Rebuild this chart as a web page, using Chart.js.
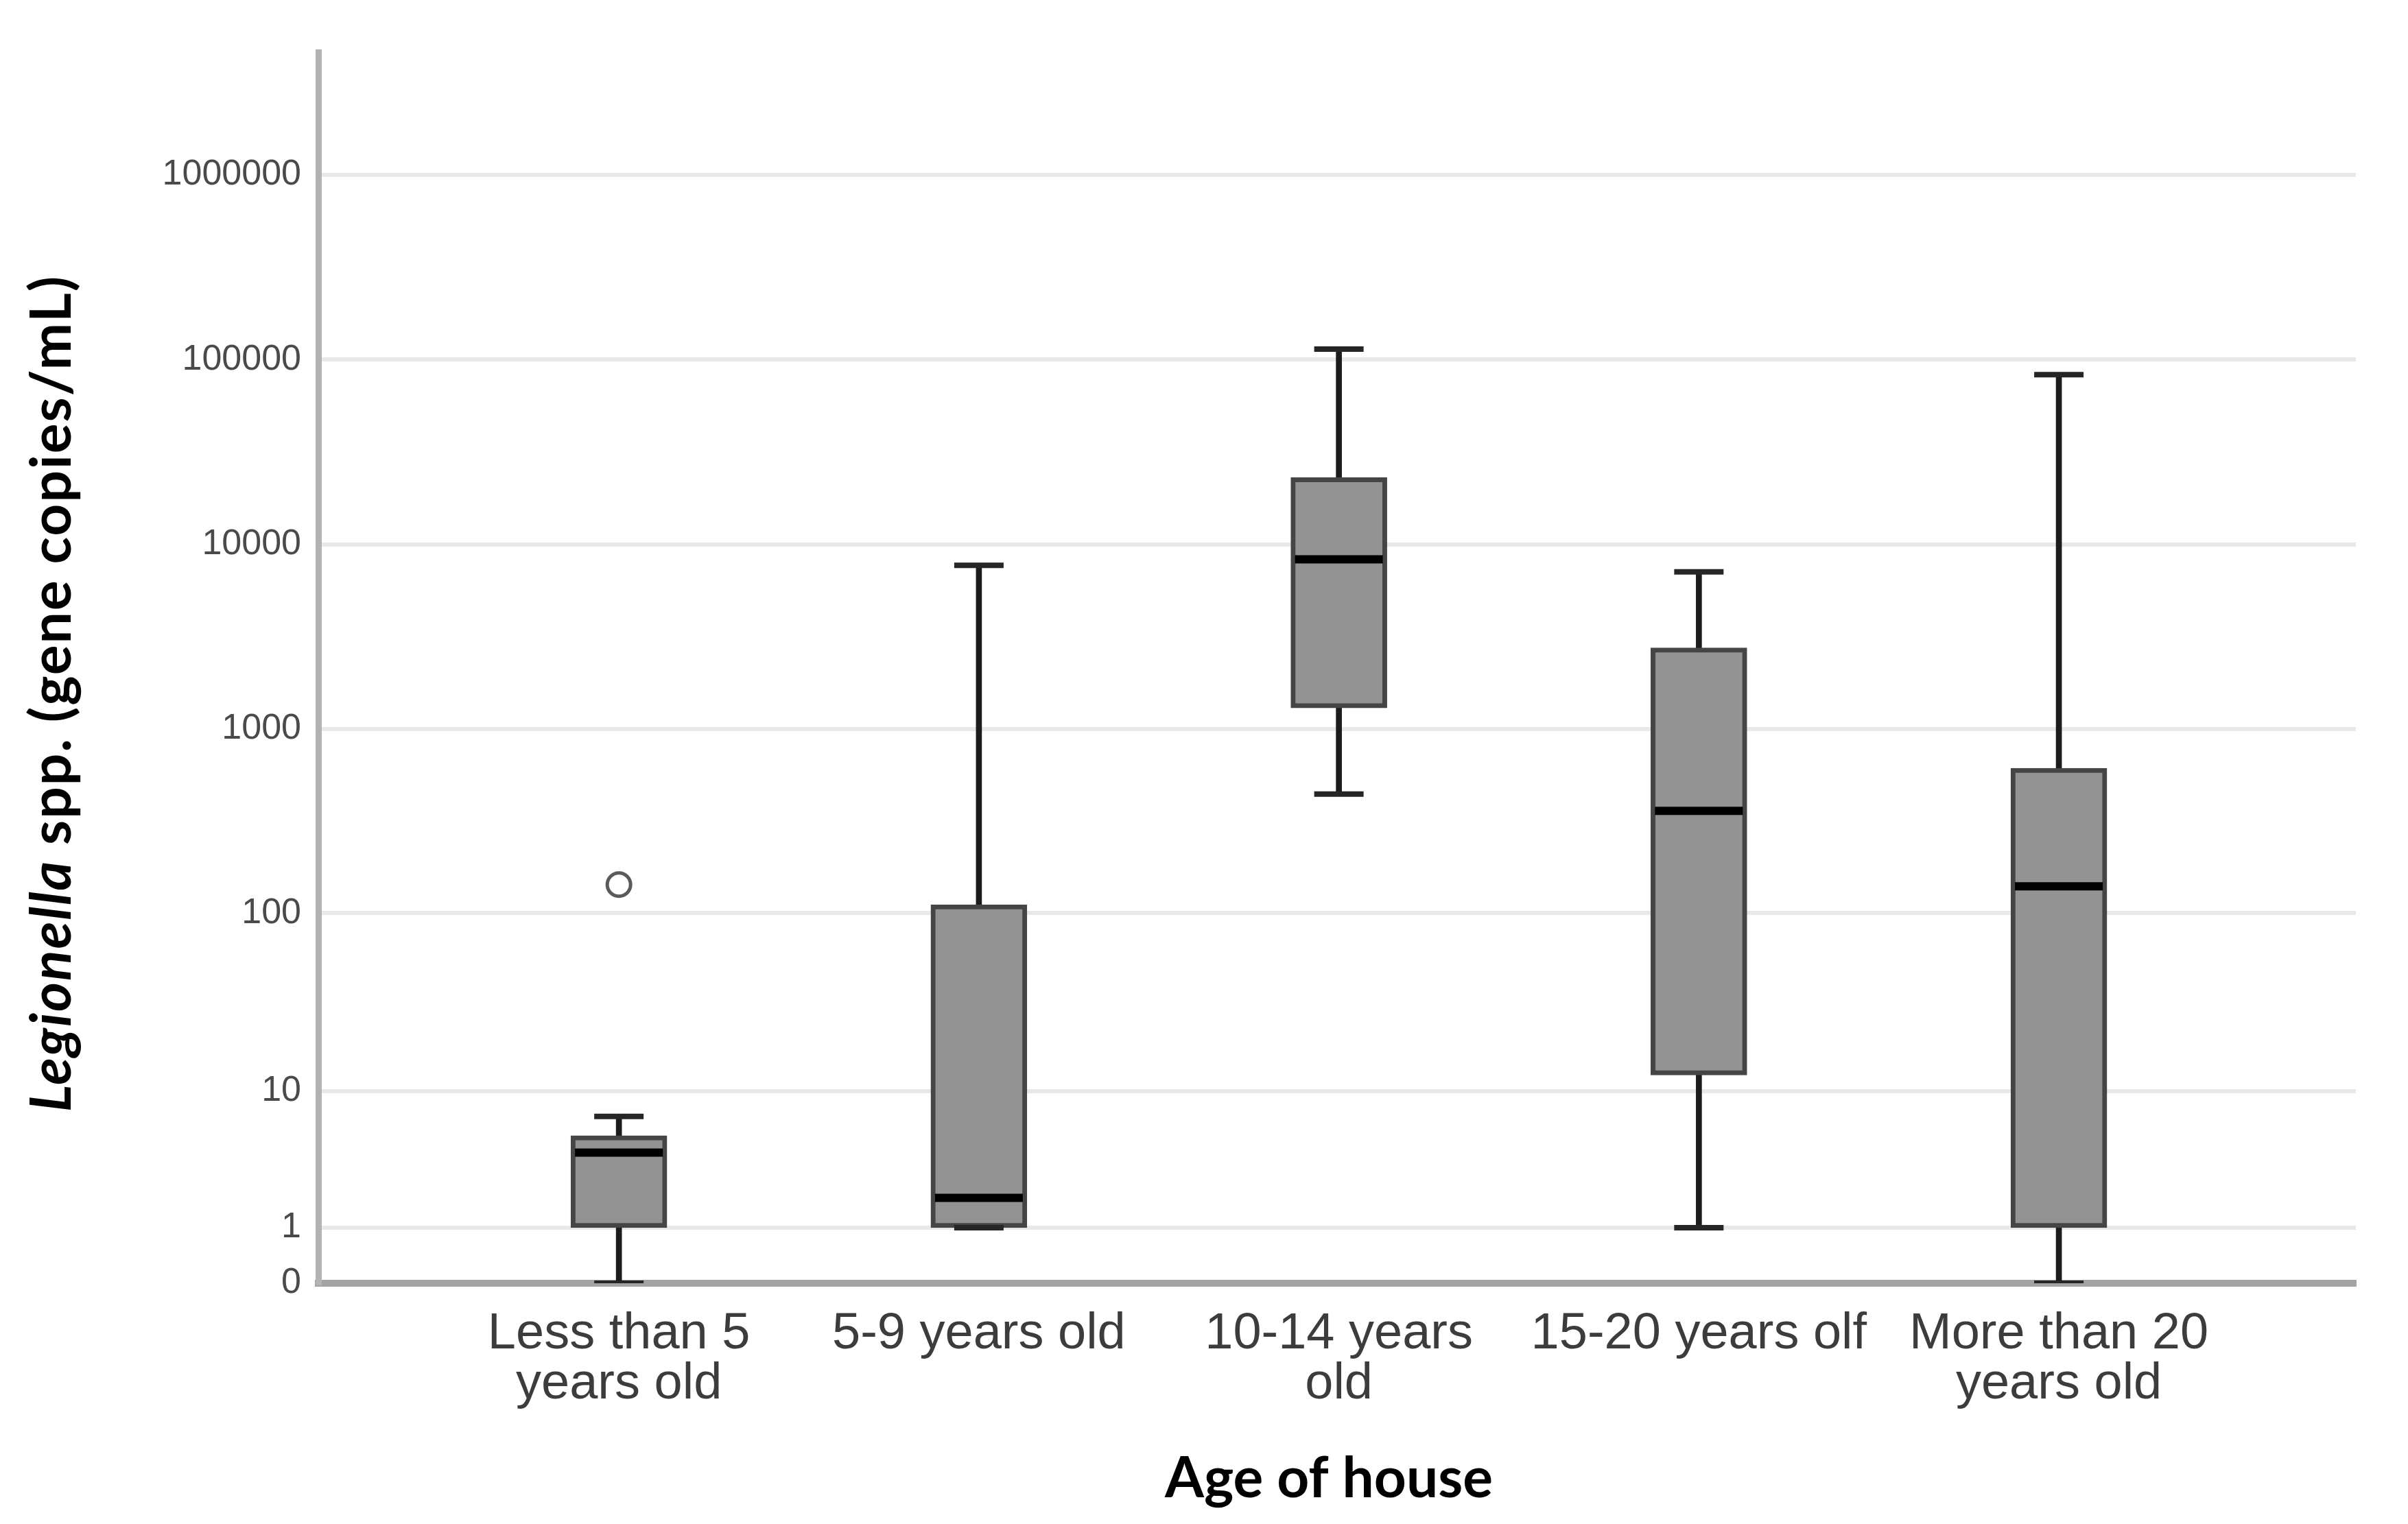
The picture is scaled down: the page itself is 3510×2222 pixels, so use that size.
<!DOCTYPE html>
<html>
<head>
<meta charset="utf-8">
<script src="https://cdn.jsdelivr.net/npm/chart.js@4.4.1/dist/chart.umd.min.js"></script>
<style>
  html, body { margin: 0; padding: 0; background: #fff; }
  #wrap { width: 3510px; height: 2222px; position: relative; }
</style>
</head>
<body>
<div id="wrap"><canvas id="boxChart"></canvas></div>
<script>
// категории (возраст дома)
const categories = [['Less than 5', 'years old'], '5-9 years old', ['10-14 years', 'old'], '15-20 years olf', ['More than 20', 'years old']];
// значения боксплотов, gene copies/mL
const minVals = [0, 1, 444, 1, 0];
const q1Vals = [1, 1, 1300, 12.4, 1];
const medianVals = [4.1, 1.9, 8300, 360, 140];
const q3Vals = [5.3, 111, 23000, 2750, 613];
const maxVals = [7, 7700, 114000, 7100, 82900];
const outlierGroups = [0];
const outlierVals = [143];
// деления оси Y
const yTickValues = [0, 1, 10, 100, 1000, 10000, 100000, 1000000];
const yTickLabels = ['0', '1', '10', '100', '1000', '10000', '100000', '1000000'];

// ось Y как log10(1 + x)
const lg = (v) => Math.log10(1 + v);

const whiskerData = categories.map((c, i) => ({ x: i, y: [lg(minVals[i]), lg(maxVals[i])] }));
const boxData = categories.map((c, i) => ({ x: i, y: [lg(q1Vals[i]), lg(q3Vals[i])] }));
const medianData = categories.map((c, i) => ({ x: i, y: lg(medianVals[i]) }));
const capData = [];
categories.forEach((c, i) => {
  capData.push({ x: i, y: lg(minVals[i]) });
  capData.push({ x: i, y: lg(maxVals[i]) });
});
const outlierData = outlierGroups.map((g, i) => ({ x: g, y: lg(outlierVals[i]) }));

/** подписи осей: курсив только для названия рода */
const axisTitlesPlugin = {
  id: 'axisTitles',
  afterDraw(chart) {
    const { ctx } = chart;
    const size = 82;
    const part1 = 'Legionella';
    const part2 = ' spp. (gene copies/mL)';
    ctx.save();
    ctx.fillStyle = '#000';
    ctx.letterSpacing = '2px';
    ctx.font = `italic bold ${size}px Lato`;
    const w1 = ctx.measureText(part1).width;
    ctx.font = `bold ${size}px Lato`;
    const w2 = ctx.measureText(part2).width;
    ctx.translate(103, 1011);
    ctx.rotate(-Math.PI / 2);
    ctx.textBaseline = 'alphabetic';
    ctx.textAlign = 'left';
    const start = -(w1 + w2) / 2;
    ctx.font = `italic bold ${size}px Lato`;
    ctx.fillText(part1, start, 0);
    ctx.font = `bold ${size}px Lato`;
    ctx.fillText(part2, start + w1, 0);
    ctx.restore();

    // подпись оси X
    ctx.save();
    ctx.fillStyle = '#000';
    ctx.font = 'bold 82px Lato';
    ctx.textAlign = 'center';
    ctx.textBaseline = 'alphabetic';
    ctx.fillText('Age of house', 1937, 2183);
    ctx.restore();
  },
};

const config = {
  type: 'bar',
  data: {
    datasets: [
      {
        label: 'whiskers',
        data: whiskerData,
        backgroundColor: '#1c1c1c',
        barThickness: 8,
        grouped: false,
        order: 5,
      },
      {
        label: 'box',
        data: boxData,
        backgroundColor: '#939393',
        borderColor: '#454545',
        borderWidth: 7,
        borderSkipped: false,
        barThickness: 140,
        grouped: false,
        order: 4,
      },
      {
        type: 'line',
        label: 'median',
        data: medianData,
        showLine: false,
        pointStyle: 'line',
        pointRadius: 64,
        pointBorderWidth: 12,
        pointBorderColor: '#000',
        order: 3,
      },
      {
        type: 'line',
        label: 'caps',
        data: capData,
        showLine: false,
        pointStyle: 'line',
        pointRadius: 36,
        pointBorderWidth: 8,
        pointBorderColor: '#262626',
        order: 2,
      },
      {
        type: 'line',
        label: 'outliers',
        data: outlierData,
        showLine: false,
        pointStyle: 'circle',
        pointRadius: 17,
        pointBorderWidth: 5,
        pointBorderColor: '#5a5a5a',
        pointBackgroundColor: '#fff',
        order: 1,
      },
    ],
  },
  options: {
    responsive: true,
    maintainAspectRatio: false,
    animation: false,
    layout: {
      padding: { top: 28, right: 37, left: 0, bottom: 0 },
    },
    plugins: {
      legend: { display: false },
      tooltip: { enabled: false },
    },
    scales: {
      x: {
        type: 'linear',
        offset: false,
        min: -0.835,
        max: 4.825,
        afterFit: (scale) => { scale.height = 351; },
        afterBuildTicks: (scale) => {
          scale.ticks = categories.map((c, i) => ({ value: i }));
        },
        grid: { display: false, drawTicks: false },
        border: { display: true, color: '#a3a3a3', width: 10 },
        ticks: {
          autoSkip: false,
          maxRotation: 0,
          padding: 38,
          color: '#3c3c3c',
          font: { family: 'Liberation Sans', size: 74, lineHeight: 0.99 },
          callback: (val, idx) => categories[idx],
        },
      },
      y: {
        type: 'linear',
        min: 0,
        max: 6.665,
        afterFit: (scale) => { scale.width = 464; },
        afterBuildTicks: (scale) => {
          scale.ticks = yTickValues.map((v) => ({ value: lg(v) }));
        },
        grid: { color: '#e8e8e8', lineWidth: 6, drawTicks: false },
        border: { display: true, color: '#b3b3b3', width: 9 },
        ticks: {
          padding: 25,
          color: '#4a4a4a',
          font: { family: 'Liberation Sans', size: 52 },
          callback: (val, idx) => yTickLabels[idx],
        },
      },
    },
  },
  plugins: [axisTitlesPlugin],
};

const boxChart = new Chart(document.getElementById('boxChart'), config);
</script>
</body>
</html>
